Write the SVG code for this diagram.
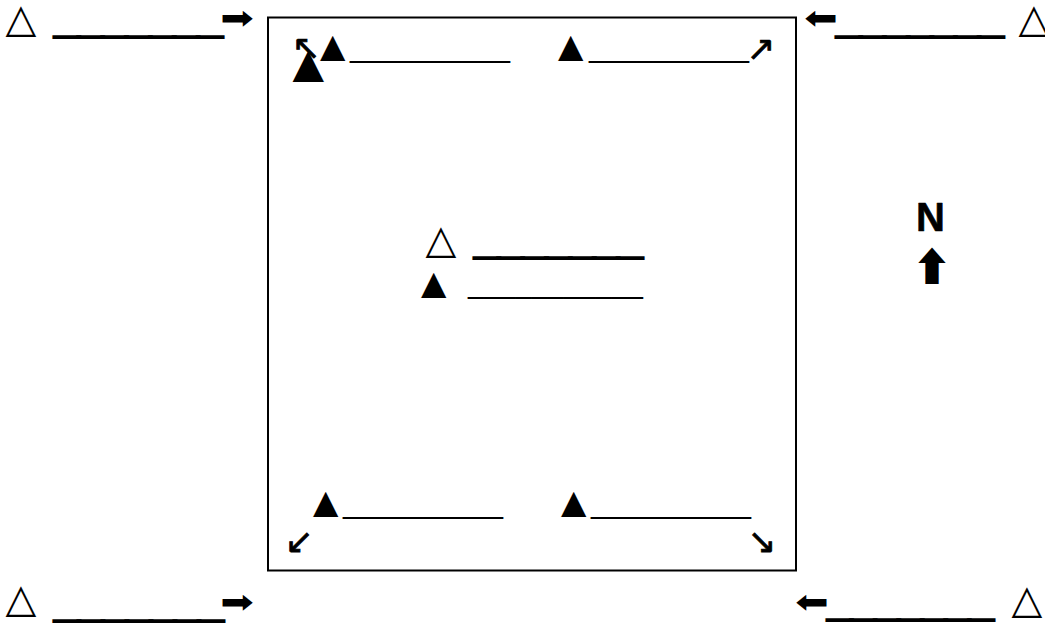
<svg xmlns="http://www.w3.org/2000/svg" width="1045" height="624" viewBox="0 0 1045 624">
<style>
.tri{font-family:"DejaVu Sans",sans-serif;fill:#000}
.big{font-size:40px}
.sm{font-size:33px}
.ln{font-family:"Liberation Sans",Arial,sans-serif;font-size:24px;fill:#000;stroke:#000;stroke-width:2.2px}
.lt{font-family:"Liberation Sans",Arial,sans-serif;font-size:29px;fill:#000}
.ar{font-family:"DejaVu Sans",sans-serif;font-size:40px;fill:#000;text-anchor:middle}
.sa{font-family:"DejaVu Sans",sans-serif;font-size:34px;fill:#000;stroke:#000;stroke-width:0.8px;text-anchor:middle}
.n{font-family:"Liberation Sans",Arial,sans-serif;font-weight:bold;font-size:40px;fill:#000;stroke:#000;stroke-width:0.6px;stroke-linejoin:round}
.up{font-family:"Noto Sans CJK SC","DejaVu Sans",sans-serif;font-size:40px;fill:#000;text-anchor:middle}
</style>
<rect x="268" y="17.5" width="528" height="553" fill="none" stroke="#000" stroke-width="2"/>
<g id="nw-outer">
<text class="tri big" x="5.5" y="32">△</text>
<text class="ln" x="55" y="33" textLength="167" lengthAdjust="spacingAndGlyphs">_______</text>
<g transform="translate(237,19) scale(1,0.8)"><text class="ar" x="0" y="12">➡</text></g>
</g>
<g id="ne-outer">
<g transform="translate(821,19) scale(1,0.8)"><text class="ar" x="0" y="12">⬅</text></g>
<text class="ln" x="837" y="33" textLength="166" lengthAdjust="spacingAndGlyphs">_______</text>
<text class="tri big" x="1018.5" y="32">△</text>
</g>
<g id="sw-outer">
<text class="tri big" x="5.5" y="612">△</text>
<text class="ln" x="55" y="617" textLength="168" lengthAdjust="spacingAndGlyphs">_______</text>
<g transform="translate(237,603) scale(1,0.8)"><text class="ar" x="0" y="12">➡</text></g>
</g>
<g id="se-outer">
<g transform="translate(812,603) scale(1,0.8)"><text class="ar" x="0" y="12">⬅</text></g>
<text class="ln" x="828" y="616" textLength="165" lengthAdjust="spacingAndGlyphs">_______</text>
<text class="tri big" x="1011.5" y="613">△</text>
</g>
<g id="nw-inner">
<text class="sa" x="306" y="59">↖</text>
<text class="tri" style="font-size:41px" x="292.5" y="77">▲</text>
<text class="tri sm" x="320" y="57">▲</text>
<text class="lt" x="350" y="57" textLength="160" lengthAdjust="spacingAndGlyphs">__________</text>
</g>
<g id="ne-inner">
<text class="tri sm" x="558" y="57">▲</text>
<text class="lt" x="589" y="57" textLength="160" lengthAdjust="spacingAndGlyphs">__________</text>
<text class="sa" x="761" y="60">↗</text>
</g>
<g id="center">
<text class="tri big" x="425.5" y="253">△</text>
<text class="ln" x="475" y="254" textLength="167" lengthAdjust="spacingAndGlyphs">_______</text>
<text class="tri sm" x="421" y="294">▲</text>
<text class="lt" x="468" y="293" textLength="175" lengthAdjust="spacingAndGlyphs">___________</text>
</g>
<g id="sw-inner">
<text class="tri sm" x="313" y="513">▲</text>
<text class="lt" x="343" y="513" textLength="160" lengthAdjust="spacingAndGlyphs">__________</text>
<text class="sa" x="299" y="553">↙</text>
</g>
<g id="se-inner">
<text class="tri sm" x="561" y="513">▲</text>
<text class="lt" x="591" y="513" textLength="160" lengthAdjust="spacingAndGlyphs">__________</text>
<text class="sa" x="762" y="553">↘</text>
</g>
<g id="north">
<text class="n" x="916" y="231">N</text>
<text class="up" x="932" y="281">⬆</text>
</g>
</svg>
